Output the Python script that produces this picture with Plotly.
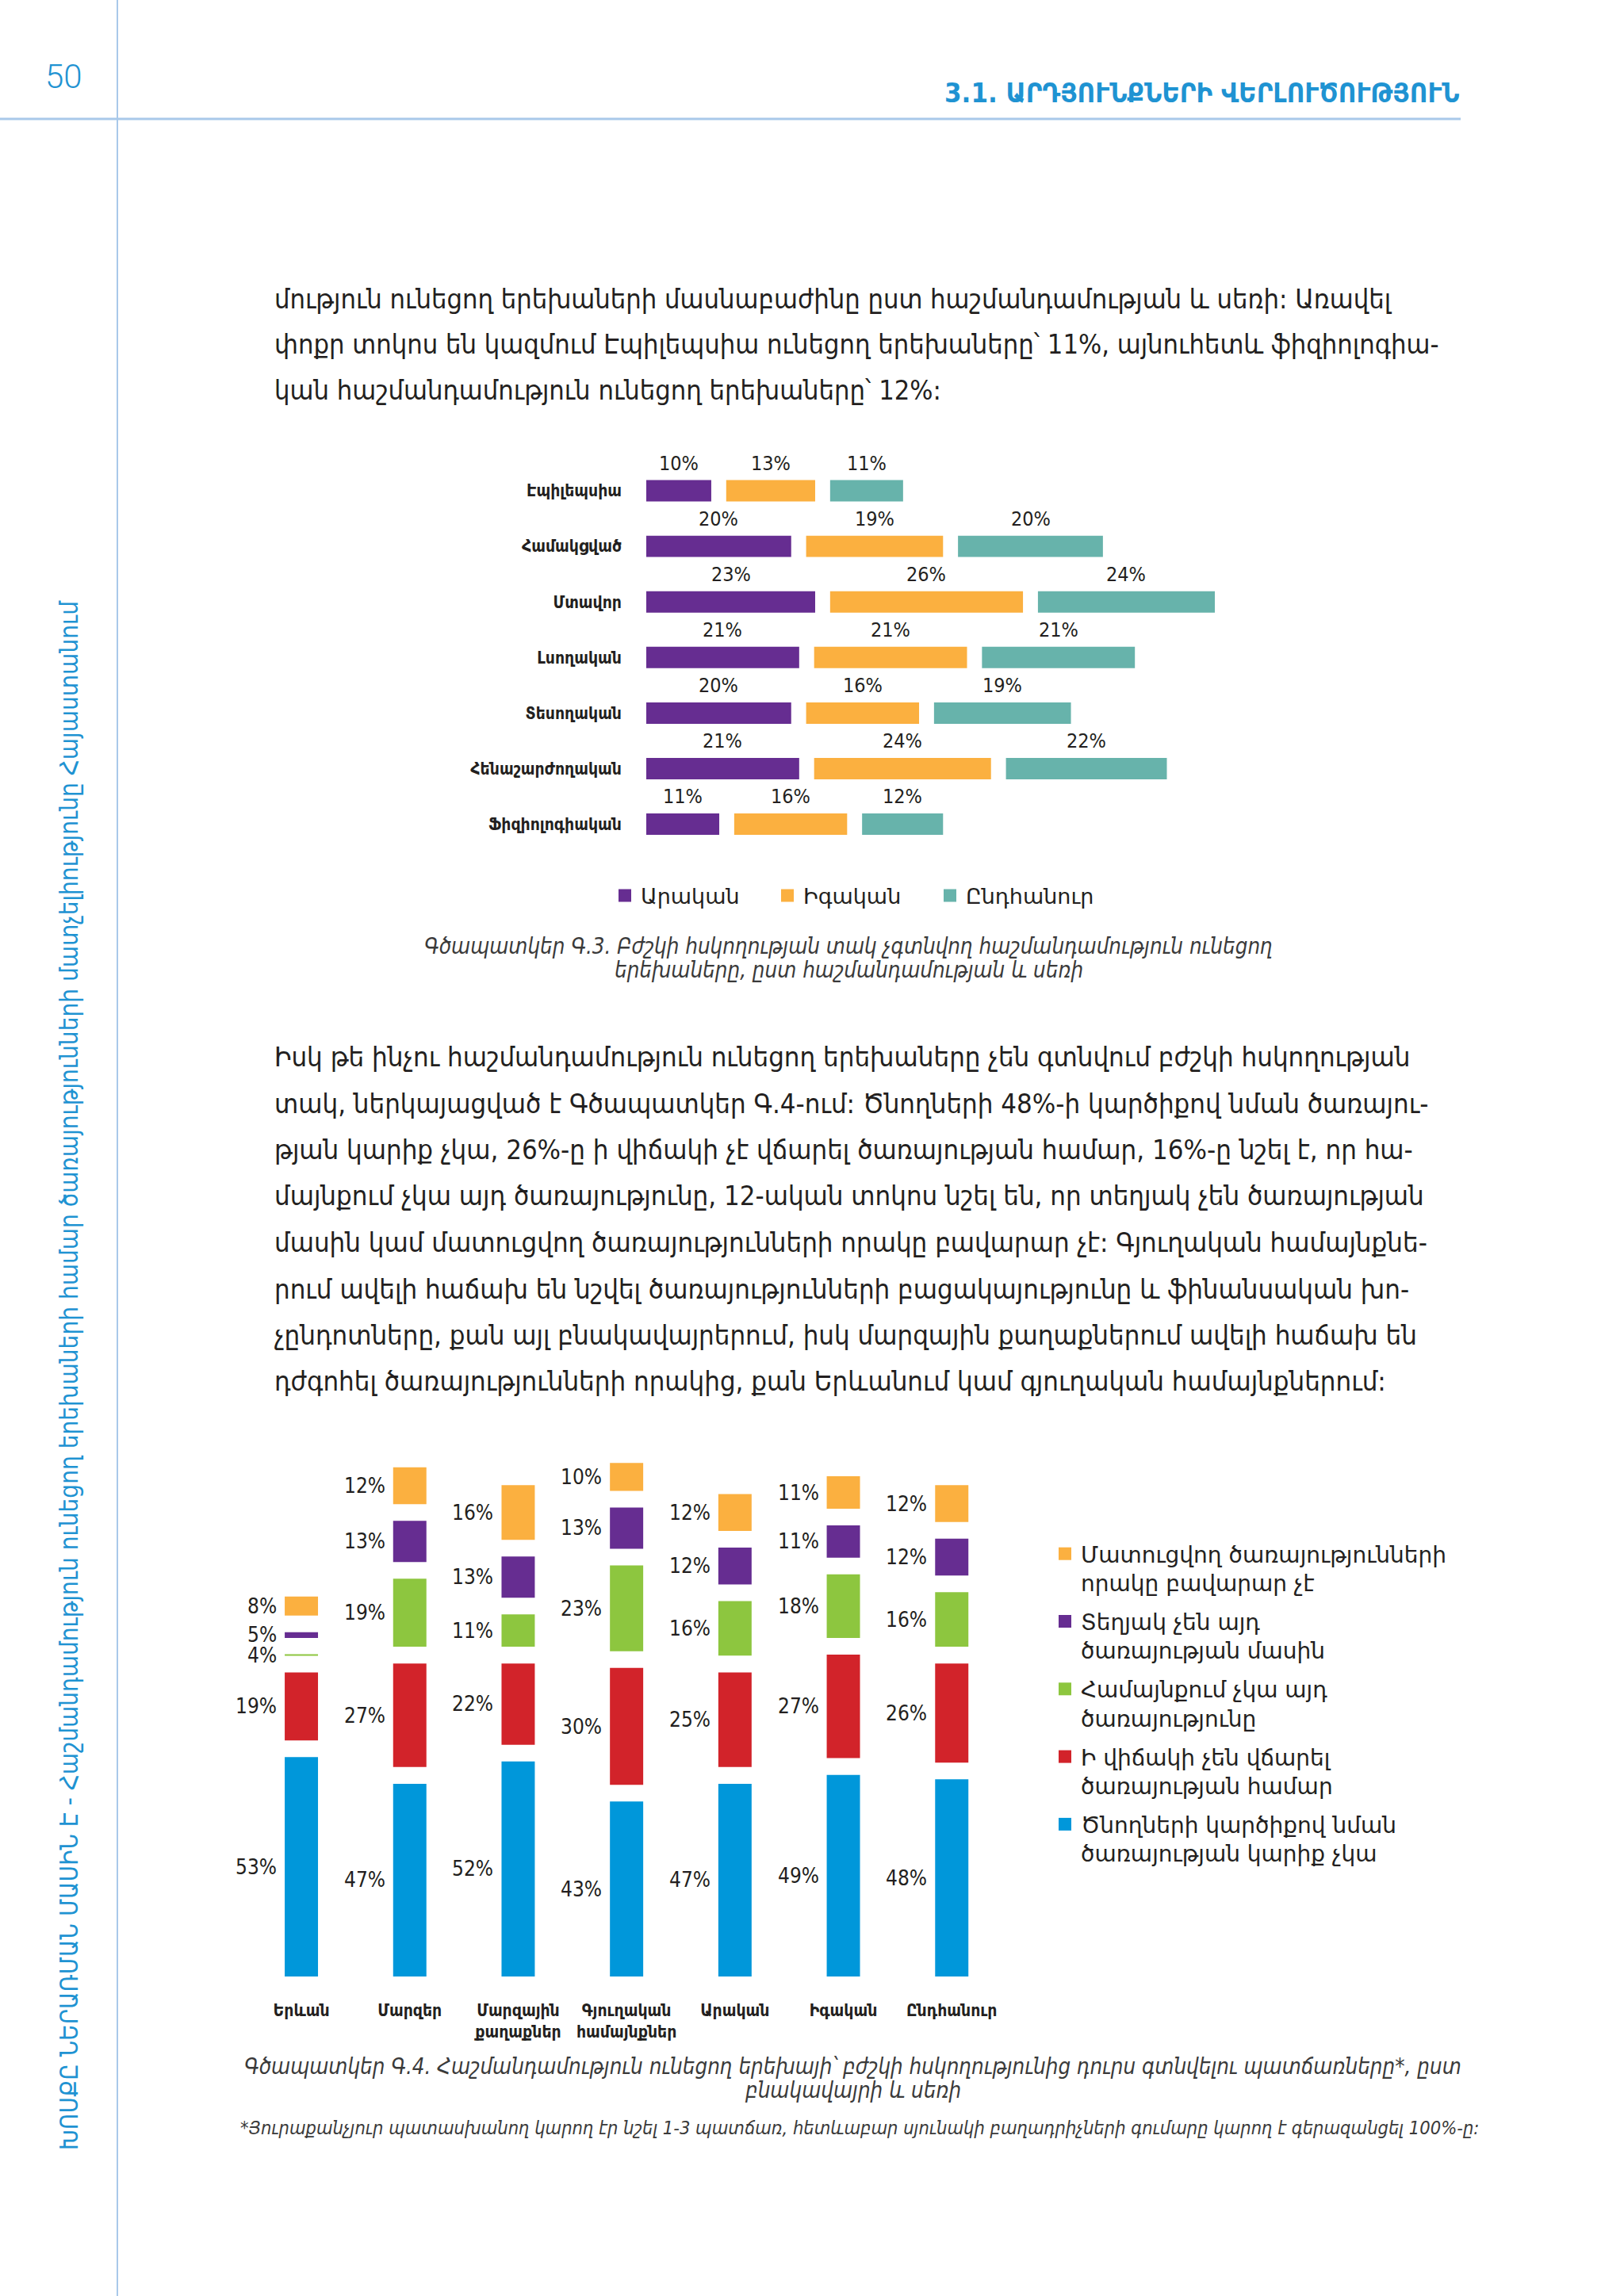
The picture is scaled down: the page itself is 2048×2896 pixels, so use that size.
import plotly.graph_objects as go

W, H = 2048, 2896

# ---------------- data: chart G.3 ----------------
disab_cats = ["Էպիլեպսիա", "Համակցված", "Մտավոր", "Լսողական", "Տեսողական",
              "Հենաշարժողական", "Ֆիզիոլոգիական"]
male = [10, 20, 23, 21, 20, 21, 11]
female = [13, 19, 26, 21, 16, 24, 16]
total = [11, 20, 24, 21, 19, 22, 12]
sex_names = ["Արական", "Իգական", "Ընդհանուր"]

# ---------------- data: chart G.4 ----------------
place_cats = ["Երևան", "Մարզեր", "Մարզային<br>քաղաքներ", "Գյուղական<br>համայնքներ",
              "Արական", "Իգական", "Ընդհանուր"]
no_need = [53, 47, 52, 43, 47, 49, 48]
cant_pay = [19, 27, 22, 30, 25, 27, 26]
no_service = [4, 19, 11, 23, 16, 18, 16]
not_aware = [5, 13, 13, 13, 12, 11, 12]
low_quality = [8, 12, 16, 10, 12, 11, 12]
reason_names = ["Ծնողների կարծիքով նման<br>ծառայության կարիք չկա",
                "Ի վիճակի չեն վճարել<br>ծառայության համար",
                "Համայնքում չկա այդ<br>ծառայությունը",
                "Տեղյակ չեն այդ<br>ծառայության մասին",
                "Մատուցվող ծառայությունների<br>որակը բավարար չէ"]

PURPLE, ORANGE, TEAL = "#662d91", "#fbb040", "#67b3ab"
BLUE, RED, GREEN = "#0097da", "#d2232a", "#8dc63f"
PAGEBLUE = "#1f93d2"
LINEBLUE = "#a9c9ea"

FC = "DejaVu Sans Condensed, DejaVu Sans, sans-serif"
FR = "DejaVu Sans, sans-serif"


def px(x):
    return x / W


def py(y):
    return 1 - y / H


fig = go.Figure()

# ---------------- chart G.3 (horizontal, segmented) ----------------
GAP1 = 1.87
BW1 = 0.385
off1 = [0] * len(disab_cats)
ann = []
for name, vals, col in zip(sex_names, [male, female, total], [PURPLE, ORANGE, TEAL]):
    lens = [v - GAP1 for v in vals]
    fig.add_trace(go.Bar(
        y=list(range(len(disab_cats))), x=lens, base=list(off1), orientation="h",
        width=BW1, marker=dict(color=col, line=dict(width=0)), showlegend=False,
        xaxis="x", yaxis="y", hoverinfo="skip"))
    for i, v in enumerate(vals):
        ann.append(dict(x=off1[i] + lens[i] / 2, y=i, xref="x", yref="y",
                        text=f"{v}%", showarrow=False, yshift=35,
                        font=dict(family=FC, size=25, color="#231f20")))
    fig.add_trace(go.Scatter(x=[None], y=[None], mode="markers", name=name,
                             marker=dict(symbol="square", size=20, color=col),
                             legend="legend", xaxis="x", yaxis="y"))
    off1 = [o + v for o, v in zip(off1, vals)]

# ---------------- chart G.4 (vertical, segmented) ----------------
GAP2 = 3.74
BW2 = 0.307
off2 = [0] * len(place_cats)
series2 = [no_need, cant_pay, no_service, not_aware, low_quality]
cols2 = [BLUE, RED, GREEN, PURPLE, ORANGE]
for name, vals, col in zip(reason_names, series2, cols2):
    lens = [v - GAP2 for v in vals]
    fig.add_trace(go.Bar(
        x=list(range(len(place_cats))), y=lens, base=list(off2),
        width=BW2, marker=dict(color=col, line=dict(width=0)), showlegend=False,
        xaxis="x2", yaxis="y2", hoverinfo="skip"))
    for i, v in enumerate(vals):
        ann.append(dict(x=i - BW2 / 2, y=off2[i] + lens[i] / 2, xref="x2", yref="y2",
                        text=f"{v}%", showarrow=False, xanchor="right", xshift=-8,
                        font=dict(family=FC, size=26, color="#231f20")))
    off2 = [o + v for o, v in zip(off2, vals)]

for name, col in zip(reason_names[::-1], cols2[::-1]):
    fig.add_trace(go.Scatter(x=[None], y=[None], mode="markers", name=name,
                             legendgroup=name,
                             marker=dict(symbol="square", size=20, color=col),
                             legend="legend2", xaxis="x2", yaxis="y2"))

# ---------------- page texts ----------------
TXT = "#231f20"
para1 = [
    "մություն ունեցող երեխաների մասնաբաժինը ըստ հաշմանդամության և սեռի: Առավել",
    "փոքր տոկոս են կազմում Էպիլեպսիա ունեցող երեխաները՝ 11%, այնուհետև ֆիզիոլոգիա-",
    "կան հաշմանդամություն ունեցող երեխաները՝ 12%:",
]
para2 = [
    "Իսկ թե ինչու հաշմանդամություն ունեցող երեխաները չեն գտնվում բժշկի հսկողության",
    "տակ, ներկայացված է Գծապատկեր Գ.4-ում: Ծնողների 48%-ի կարծիքով նման ծառայու-",
    "թյան կարիք չկա, 26%-ը ի վիճակի չէ վճարել ծառայության համար, 16%-ը նշել է, որ հա-",
    "մայնքում չկա այդ ծառայությունը, 12-ական տոկոս նշել են, որ տեղյակ չեն ծառայության",
    "մասին կամ մատուցվող ծառայությունների որակը բավարար չէ: Գյուղական համայնքնե-",
    "րում ավելի հաճախ են նշվել ծառայությունների բացակայությունը և ֆինանսական խո-",
    "չընդոտները, քան այլ բնակավայրերում, իսկ մարզային քաղաքներում ավելի հաճախ են",
    "դժգոհել ծառայությունների որակից, քան Երևանում կամ գյուղական համայնքներում:",
]
for k, line in enumerate(para1):
    ann.append(dict(x=px(344), y=py(377 + 57.5 * k), xref="paper", yref="paper",
                    text=line, showarrow=False, xanchor="left", yanchor="middle",
                    font=dict(family=FC, size=34.2, color=TXT)))
for k, line in enumerate(para2):
    ann.append(dict(x=px(344), y=py(1333 + 58.5 * k), xref="paper", yref="paper",
                    text=line, showarrow=False, xanchor="left", yanchor="middle",
                    font=dict(family=FC, size=34.5, color=TXT)))

cap1 = ["Գծապատկեր Գ.3. Բժշկի հսկողության տակ չգտնվող հաշմանդամություն ունեցող",
        "երեխաները, ըստ հաշմանդամության և սեռի"]
cap2 = ["Գծապատկեր Գ.4. Հաշմանդամություն ունեցող երեխայի՝ բժշկի հսկողությունից դուրս գտնվելու պատճառները*, ըստ",
        "բնակավայրի և սեռի"]
for k, line in enumerate(cap1):
    ann.append(dict(x=px(1070), y=py(1193 + 30 * k), xref="paper", yref="paper",
                    text=f"<i>{line}</i>", showarrow=False, xanchor="center", yanchor="middle",
                    font=dict(family=FC, size=27.5, color="#3a3a3a")))
for k, line in enumerate(cap2):
    ann.append(dict(x=px(1075), y=py(2606 + 30 * k), xref="paper", yref="paper",
                    text=f"<i>{line}</i>", showarrow=False, xanchor="center", yanchor="middle",
                    font=dict(family=FC, size=27.5, color="#3a3a3a")))
ann.append(dict(x=px(1084), y=py(2684), xref="paper", yref="paper",
                text="<i>*Յուրաքանչյուր պատասխանող կարող էր նշել 1-3 պատճառ, հետևաբար սյունակի բաղադրիչների գումարը կարող է գերազանցել 100%-ը:</i>",
                showarrow=False, xanchor="center", yanchor="middle",
                font=dict(family=FC, size=23.5, color="#3a3a3a")))

# header
ann.append(dict(x=px(80), y=py(97), xref="paper", yref="paper", text="50",
                showarrow=False, xanchor="center", yanchor="middle",
                font=dict(family="Roboto, sans-serif", size=42, color=PAGEBLUE, weight=300)))
ann.append(dict(x=px(1842), y=py(117), xref="paper", yref="paper",
                text="<b>3.1. ԱՐԴՅՈՒՆՔՆԵՐԻ ՎԵՐԼՈՒԾՈՒԹՅՈՒՆ</b>",
                showarrow=False, xanchor="right", yanchor="middle",
                font=dict(family=FC, size=34.5, color=PAGEBLUE)))
ann.append(dict(x=px(87), y=py(1735), xref="paper", yref="paper",
                text="ԽՈՍՔԸ ՆԵՐԱՌՄԱՆ ՄԱՍԻՆ Է - Հաշմանդամություն ունեցող երեխաների համար ծառայությունների մատչելիությունը Հայաստանում",
                textangle=-90, showarrow=False, xanchor="center", yanchor="middle",
                font=dict(family=FC, size=31.2, color=PAGEBLUE)))

shapes = [
    dict(type="line", xref="paper", yref="paper", x0=px(148), x1=px(148), y0=0, y1=1,
         line=dict(color=LINEBLUE, width=2)),
    dict(type="line", xref="paper", yref="paper", x0=0, x1=px(1842), y0=py(150), y1=py(150),
         line=dict(color=LINEBLUE, width=3)),
]

fig.update_layout(
    width=W, height=H, margin=dict(l=0, r=0, t=0, b=0),
    paper_bgcolor="white", plot_bgcolor="rgba(0,0,0,0)",
    barmode="overlay",
    annotations=ann, shapes=shapes,
    xaxis=dict(domain=[px(815), px(1823)], range=[0, 100], visible=False, fixedrange=True),
    yaxis=dict(domain=[py(1074.6), py(584)], range=[6.5, -0.5],
               tickvals=list(range(len(disab_cats))), ticktext=disab_cats,
               ticks="", showgrid=False, zeroline=False, showline=False,
               ticklabelstandoff=30,
               tickfont=dict(family=FC, size=21, color=TXT, weight="bold")),
    xaxis2=dict(domain=[px(311.7), px(1268.6)], range=[-0.5, 6.5], anchor="y2",
                tickvals=list(range(len(place_cats))), ticktext=place_cats,
                ticks="", showgrid=False, zeroline=False, showline=False,
                ticklabelstandoff=28,
                tickfont=dict(family=FC, size=21, color=TXT, weight="bold")),
    yaxis2=dict(domain=[py(2493), py(1762.4)], range=[0, 130], anchor="x2", visible=False),
    legend=dict(orientation="h", x=px(768), y=py(1130), xanchor="left", yanchor="middle",
                font=dict(family=FR, size=27, color=TXT), entrywidth=160,
                entrywidthmode="pixels", bgcolor="rgba(0,0,0,0)", itemclick=False),
    legend2=dict(orientation="v", x=px(1323), y=py(1935), xanchor="left", yanchor="top",
                 font=dict(family=FR, size=28, color=TXT), valign="top",
                 tracegroupgap=9.5, bgcolor="rgba(0,0,0,0)", itemclick=False),
)

fig.write_html("out.html", config={"displayModeBar": False},
               post_script="document.body.style.margin='0';")
